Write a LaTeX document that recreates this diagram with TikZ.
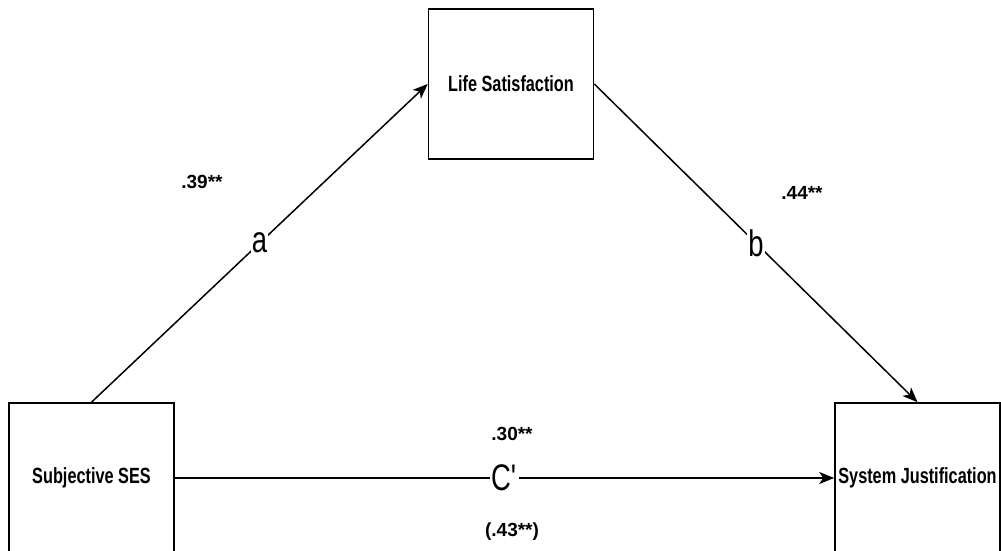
\documentclass[tikz,border=0pt]{standalone}
\usepackage{fontspec}
\setmainfont{Liberation Sans}
\newfontfamily\narrowfont[FakeStretch=0.74]{Liberation Sans}
\usetikzlibrary{arrows.meta}

\begin{document}
\begin{tikzpicture}[x=1pt,y=-1pt,>={Stealth[length=15pt,width=12pt,inset=4pt]},
    varbox/.style={draw,line width=1.6pt,minimum width=165pt,minimum height=150pt,inner sep=1pt,align=center,font={\narrowfont\bfseries\fontsize{22}{26}\selectfont}},
    link/.style={->,line width=1.5pt},
    pathlbl/.style={fill=white,inner sep=1pt,font={\narrowfont\fontsize{37}{40}\selectfont}},
    coef/.style={inner sep=1pt,font={\bfseries\fontsize{19}{22}\selectfont}}]
        \clip (0,0) rectangle (1001,551);
        \node[varbox] (ls) at (511,84) {Life Satisfaction};
        \node[varbox] (ses) at (91.5,478) {Subjective SES};
        \node[varbox] (sj) at (917.5,478) {System Justification};
        \draw[link] (ses.north) -- (ls.west) node[midway,pathlbl] (la) {a};
        \draw[link] (ls.east) -- (sj.north) node[midway,pathlbl] (lb) {b};
        \draw[link] (ses.east) -- (sj.west) node[midway,pathlbl] (lc) {C\textquotesingle};
        \node[coef] (pa) at (202,182) {.39**};
        \node[coef] (pb) at (802,193) {.44**};
        \node[coef] (pc) at (512,434) {.30**};
        \node[coef] (ptot) at (512,532) {(.43**)};
      \end{tikzpicture}
\end{document}
